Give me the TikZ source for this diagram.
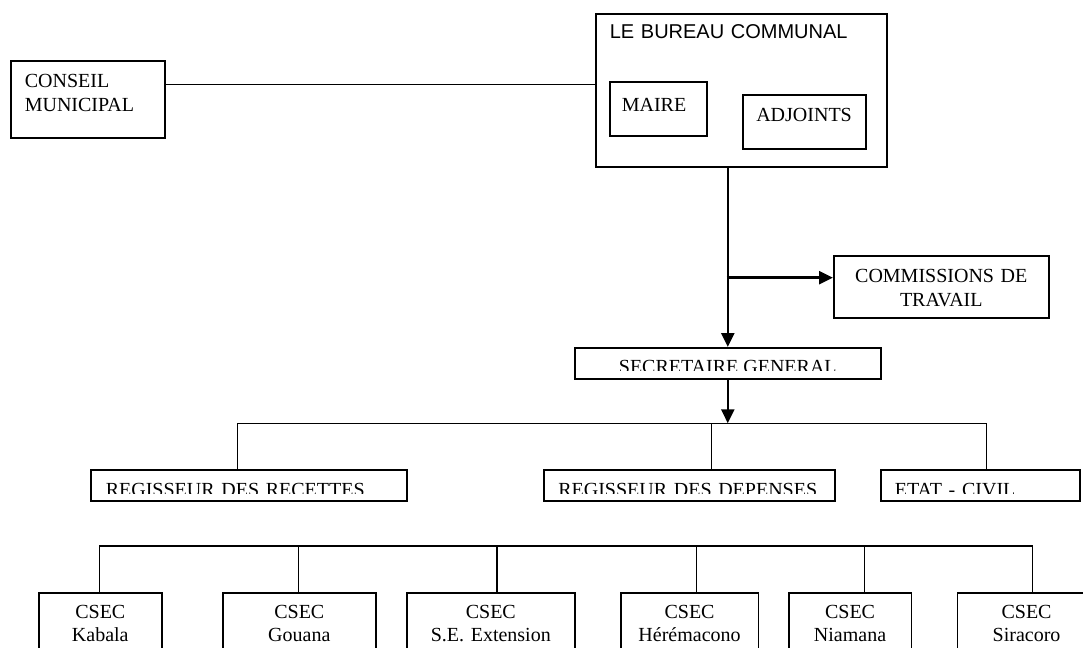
\documentclass[tikz,border=0pt]{standalone}
\usepackage{fontspec}
\setmainfont{Liberation Serif}
\newfontfamily\arialfont{Liberation Sans}
\usetikzlibrary{arrows.meta,positioning}

\newcommand{\cutbottom}[2]{\fill[white] ([shift={(0.85pt,0.85pt)}]#1.south west) rectangle ([shift={(-0.85pt,#2)}]#1.south east);}

\begin{document}
\begin{tikzpicture}[x=0.5pt,y=-0.5pt,
    box/.style={draw,line width=0.8pt,inner sep=0pt,anchor=north west,font=\fontsize{10pt}{11.75pt}\selectfont},
    csec/.style={box,align=center,text height=12.65pt,text depth=40pt},
    link/.style={line width=0.7pt},
    flow/.style={line width=1.3pt,-{Triangle[length=7pt,width=6.5pt]}}]
      \path[use as bounding box,clip] (0,0) rectangle (1083,648);
      \fill[white] (0,0) rectangle (1083,648);

      \node[box,text width=63pt,inner xsep=7pt,align=left,text height=13.35pt,text depth=25.15pt] (conseil) at (10,60) {CONSEIL\\MUNICIPAL};
      \node[box,text width=131.5pt,inner xsep=7pt,text height=12.5pt,text depth=64pt,font=\arialfont\fontsize{10pt}{11.75pt}\selectfont] (bureau) at (595,13) {LE BUREAU COMMUNAL};
      \node[box,text width=36.5pt,inner xsep=6pt,text height=15pt,text depth=12pt] (maire) at (609,81) {MAIRE};
      \node[box,text width=48pt,inner xsep=6.75pt,text height=13.5pt,text depth=13.5pt] (adjoints) at (742,94) {ADJOINTS};

      \node[box,text width=107.5pt,align=center,text height=13.35pt,text depth=17.65pt] (commissions) at (833,255) {COMMISSIONS DE\\TRAVAIL};
      \node[box,minimum width=153pt,text height=12.75pt,text depth=2.75pt] (secgen) at (574,347) {SECRETAIRE GENERAL};
      \cutbottom{secgen}{4.15pt}

      \node[box,text width=143pt,inner xsep=7.5pt,text height=13.25pt,text depth=2.25pt] (recettes) at (90,469) {REGISSEUR DES RECETTES};
      \node[box,text width=131pt,inner xsep=7.25pt,text height=13.25pt,text depth=2.25pt] (depenses) at (543,469) {REGISSEUR DES DEPENSES};
      \node[box,text width=85.5pt,inner xsep=7pt,text height=13.25pt,text depth=2.25pt] (etatcivil) at (880,469) {ETAT - CIVIL};
      \foreach \n in {recettes,depenses,etatcivil} {\cutbottom{\n}{3.65pt}}

      \node[csec,text width=61.5pt] (kabala) at (38,592) {CSEC\\Kabala};
      \node[csec,text width=76.5pt] (gouana) at (222,592) {CSEC\\Gouana};
      \node[csec,text width=84pt] (extension) at (406,592) {CSEC\\S.E. Extension\hspace*{13pt}};
      \node[csec,text width=68.75pt] (heremacono) at (620,592) {CSEC\\Hérémacono\hspace*{4pt}};
      \node[csec,text width=61.25pt] (niamana) at (788,592) {CSEC\\Niamana\hspace*{11.6pt}};
      \node[csec,text width=69.25pt] (siracoro) at (956.5,592) {CSEC\\Siracoro};

      % liens
      \coordinate (c1) at (0,84.3);
      \draw[link] (conseil.east |- c1) -- (bureau.west |- c1);
      \draw[flow] (bureau.south -| secgen.north) -- (secgen.north);
      \coordinate (br) at (726.7,277.7);
      \draw[flow] (br) -- (br -| commissions.west);

      \coordinate (r1) at (237.3,423.3);
      \coordinate (r2) at (711.7,423.3);
      \coordinate (r3) at (986.7,423.3);
      \draw[link] (recettes.north -| r1) -- (r1) -- (r3) -- (etatcivil.north -| r3);
      \draw[link] (r2) -- (depenses.north -| r2);
      \draw[flow] (secgen.south) -- (secgen.south |- r1);

      \coordinate (k1) at (99.7,546);
      \coordinate (k2) at (298.5,546);
      \coordinate (k3) at (496.9,546);
      \coordinate (k4) at (696.5,546);
      \coordinate (k5) at (864.4,546);
      \coordinate (k6) at (1032.7,546);
      \draw[link] (kabala.north -| k1) -- (k1) -- (k6) -- (siracoro.north -| k6);
      \foreach \k/\b in {k2/gouana,k3/extension,k4/heremacono,k5/niamana}
        \draw[link] (\k) -- (\b.north -| \k);
    \end{tikzpicture}
\end{document}
